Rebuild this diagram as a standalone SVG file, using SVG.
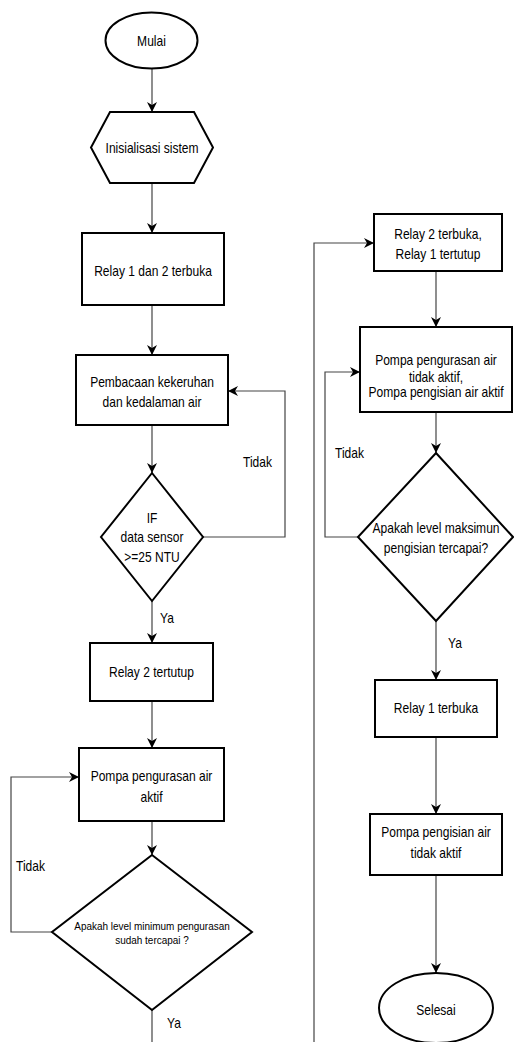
<svg xmlns="http://www.w3.org/2000/svg" width="514" height="1042" viewBox="0 0 514 1042">
<style>
.s{fill:#fff;stroke:#000;stroke-width:2}
.c{fill:none;stroke:#444;stroke-width:1.2}
.t{font-family:"Liberation Sans",Arial,sans-serif;font-size:14px;fill:#000;text-anchor:middle}
.sm{font-size:11.6px}
.l{font-family:"Liberation Sans",Arial,sans-serif;font-size:14px;fill:#000}
</style>
<defs>
<marker id="a" markerUnits="userSpaceOnUse" markerWidth="10" markerHeight="10" refX="10" refY="5" orient="auto">
<path d="M0,0 L10,5 L0,10 L3,5 z" fill="#000"/>
</marker>
</defs>
<rect width="514" height="1042" fill="#fff"/>
<g id="connectors">
<path class="c" d="M152 69 V112" marker-end="url(#a)"/>
<path class="c" d="M152 183 V233" marker-end="url(#a)"/>
<path class="c" d="M152 305 V355" marker-end="url(#a)"/>
<path class="c" d="M152 425 V473" marker-end="url(#a)"/>
<path class="c" d="M203 537 H285 V391 H228" marker-end="url(#a)"/>
<path class="c" d="M152 601 V643" marker-end="url(#a)"/>
<path class="c" d="M152 701 V748" marker-end="url(#a)"/>
<path class="c" d="M152 821 V855" marker-end="url(#a)"/>
<path class="c" d="M52 932 H11 V777 H79" marker-end="url(#a)"/>
<path class="c" d="M152 1010 V1042"/>
<path class="c" d="M314 1042 V243 H374" marker-end="url(#a)"/>
<path class="c" d="M436 271 V327" marker-end="url(#a)"/>
<path class="c" d="M436 412 V453" marker-end="url(#a)"/>
<path class="c" d="M358 537 H325 V372 H360" marker-end="url(#a)"/>
<path class="c" d="M436 621 V680" marker-end="url(#a)"/>
<path class="c" d="M436 737 V814" marker-end="url(#a)"/>
<path class="c" d="M436 875 V973" marker-end="url(#a)"/>
<text class="l" transform="translate(243,467) scale(0.86,1)">Tidak</text>
<text class="l" transform="translate(160,623) scale(0.86,1)">Ya</text>
<text class="l" transform="translate(16,871) scale(0.86,1)">Tidak</text>
<text class="l" transform="translate(167,1028) scale(0.86,1)">Ya</text>
<text class="l" transform="translate(335,458) scale(0.86,1)">Tidak</text>
<text class="l" transform="translate(448,648) scale(0.86,1)">Ya</text>
</g>
<g id="mulai">
<ellipse class="s" cx="151.5" cy="40.5" rx="46" ry="28"/>
<text class="t" transform="translate(151.5,45.5) scale(0.86,1)">Mulai</text>
</g>
<g id="inisialisasi">
<polygon class="s" points="110,112 194,112 213,147.5 194,183 110,183 91,147.5"/>
<text class="t" transform="translate(152,152.5) scale(0.86,1)">Inisialisasi sistem</text>
</g>
<g id="relay12">
<rect class="s" x="82" y="233" width="142" height="72"/>
<text class="t" transform="translate(153,276) scale(0.86,1)">Relay 1 dan 2 terbuka</text>
</g>
<g id="pembacaan">
<rect class="s" x="76" y="355" width="152" height="70"/>
<text class="t" transform="translate(152,387) scale(0.86,1)">Pembacaan kekeruhan</text>
<text class="t" transform="translate(152,407) scale(0.86,1)">dan kedalaman air</text>
</g>
<g id="if-sensor">
<polygon class="s" points="152,473 203,537 152,601 101,537"/>
<text class="t" transform="translate(152,523) scale(0.86,1)">IF</text>
<text class="t" transform="translate(152,542) scale(0.86,1)">data sensor</text>
<text class="t" transform="translate(152,562) scale(0.86,1)">&gt;=25 NTU</text>
</g>
<g id="relay2tertutup">
<rect class="s" x="90" y="643" width="123" height="58"/>
<text class="t" transform="translate(151.5,677) scale(0.86,1)">Relay 2 tertutup</text>
</g>
<g id="pompa-pengurasan">
<rect class="s" x="79" y="748" width="145" height="73"/>
<text class="t" transform="translate(151.5,781) scale(0.86,1)">Pompa pengurasan air</text>
<text class="t" transform="translate(151.5,802) scale(0.86,1)">aktif</text>
</g>
<g id="cek-minimum">
<polygon class="s" points="152,855 252,932 152,1010 52,932"/>
<text class="t sm" transform="translate(152,930) scale(0.86,1)">Apakah level minimum pengurasan</text>
<text class="t sm" transform="translate(152,944) scale(0.86,1)">sudah tercapai ?</text>
</g>
<g id="relay2terbuka">
<rect class="s" x="374" y="214" width="128" height="57"/>
<text class="t" transform="translate(438,239) scale(0.86,1)">Relay 2 terbuka,</text>
<text class="t" transform="translate(438,259) scale(0.86,1)">Relay 1 tertutup</text>
</g>
<g id="pompa-pengisian-aktif">
<rect class="s" x="360" y="327" width="152" height="85"/>
<text class="t" transform="translate(436,365) scale(0.86,1)">Pompa pengurasan air</text>
<text class="t" transform="translate(436,382) scale(0.86,1)">tidak aktif,</text>
<text class="t" transform="translate(436,397) scale(0.86,1)">Pompa pengisian air aktif</text>
</g>
<g id="cek-maksimum">
<polygon class="s" points="436,453 513,537 436,621 358,537"/>
<text class="t" transform="translate(436,533) scale(0.86,1)">Apakah level maksimun</text>
<text class="t" transform="translate(436,553) scale(0.86,1)">pengisian tercapai?</text>
</g>
<g id="relay1terbuka">
<rect class="s" x="375" y="680" width="122" height="57"/>
<text class="t" transform="translate(436,713) scale(0.86,1)">Relay 1 terbuka</text>
</g>
<g id="pompa-pengisian-mati">
<rect class="s" x="370" y="814" width="132" height="61"/>
<text class="t" transform="translate(436,837) scale(0.86,1)">Pompa pengisian air</text>
<text class="t" transform="translate(436,858) scale(0.86,1)">tidak aktif</text>
</g>
<g id="selesai">
<ellipse class="s" cx="436" cy="1008" rx="57" ry="35"/>
<text class="t" transform="translate(436,1015) scale(0.86,1)">Selesai</text>
</g>
</svg>
